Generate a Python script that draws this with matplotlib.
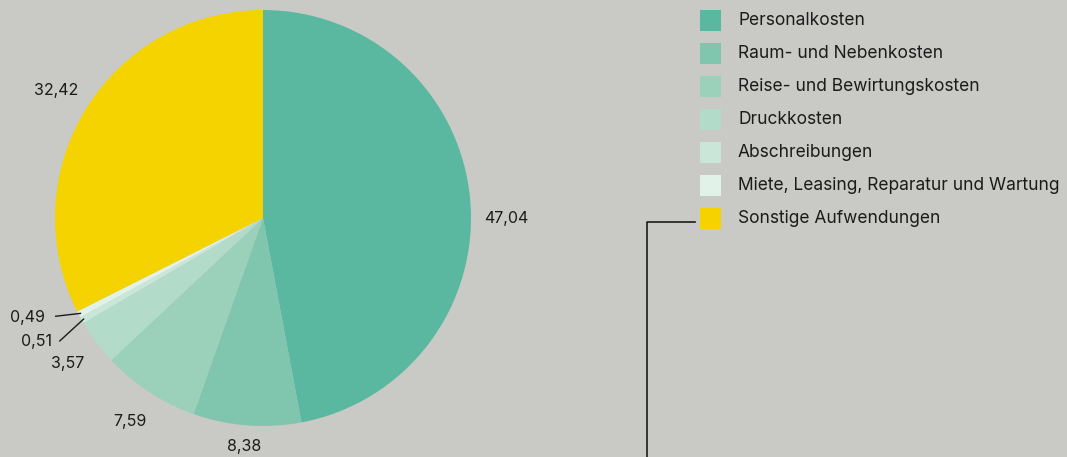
import numpy as np
import matplotlib.pyplot as plt
from matplotlib.patches import Rectangle
from matplotlib.lines import Line2D

plt.rcParams['font.family'] = ['Inter', 'DejaVu Sans']

# data
categories = ['Personalkosten', 'Raum- und Nebenkosten', 'Reise- und Bewirtungskosten',
              'Druckkosten', 'Abschreibungen', 'Miete, Leasing, Reparatur und Wartung',
              'Sonstige Aufwendungen']
values = [47.04, 8.38, 7.59, 3.57, 0.51, 0.49, 32.42]
colors = ['#5ab8a0', '#80c6ae', '#9bd0bb', '#b2dbca', '#c9e6d9', '#e1f2e9', '#f5d300']

bg = '#c9cac5'
txt = '#1b1b1b'
W, H = 1067, 457

fig = plt.figure(figsize=(W / 100, H / 100), dpi=100, facecolor=bg)

# pie axes: centre (263, 218) px, radius 208 px
cx, cy, R = 263, 218, 208
ax = fig.add_axes([(cx - R) / W, (H - cy - R) / H, 2 * R / W, 2 * R / H])
ax.set_facecolor(bg)
wedges, _ = ax.pie(values, colors=colors, startangle=90, counterclock=False,
                   radius=1, wedgeprops=dict(linewidth=0))
ax.set_xlim(-1, 1)
ax.set_ylim(-1, 1)
ax.set_aspect('equal')
ax.axis('off')

# value labels
small_text = {4: (-1.087, -0.596), 5: (-1.13, -0.48)}
ymin = -(H - cy - 11) / R
for i, (w, v) in enumerate(zip(wedges, values)):
    ang = np.deg2rad((w.theta1 + w.theta2) / 2)
    if i == 0:
        ang = 0.0  # label of the big slice sits level with the centre
    lab = f'{v:.2f}'.replace('.', ',')
    if i in small_text:
        tx, ty = small_text[i]
        ex, ey = np.cos(ang), np.sin(ang)
        ax.text(tx, ty, lab, ha='center', va='center', fontsize=11.5, color=txt)
        sx = tx + 0.11
        ax.add_line(Line2D([sx, ex * 0.99], [ty + 0.005, ey * 0.99], color=txt, lw=1))
    else:
        r = 1.17
        tx, ty = r * np.cos(ang), max(r * np.sin(ang), ymin)
        ax.text(tx, ty, lab, ha='center', va='center', fontsize=11.5, color=txt)

# legend
for i, (lab, col) in enumerate(zip(categories, colors)):
    yc = 20.5 + i * 33
    fig.patches.append(Rectangle((700 / W, 1 - (yc + 10.5) / H), 21 / W, 21 / H,
                                 transform=fig.transFigure, facecolor=col,
                                 edgecolor='none'))
    fig.text(738 / W, 1 - yc / H, lab, ha='left', va='center', fontsize=12.5, color=txt)

# connector line
fig.add_artist(Line2D([647 / W, 647 / W, 695 / W], [0, 1 - 222 / H, 1 - 222 / H],
                      transform=fig.transFigure, color=txt, lw=1.2))

fig.savefig('out.png', dpi=100, facecolor=bg)
